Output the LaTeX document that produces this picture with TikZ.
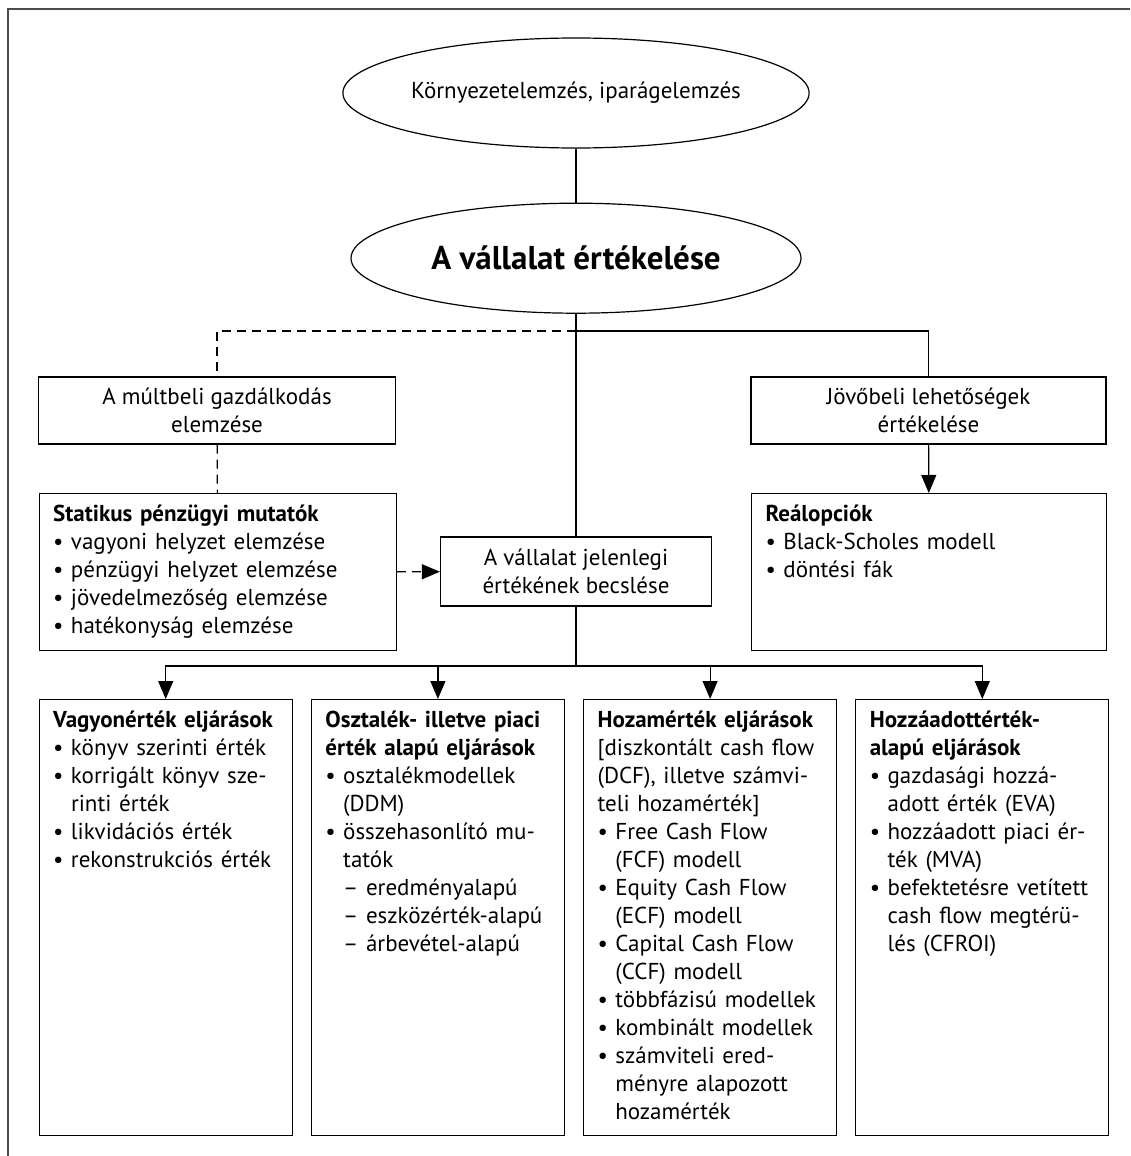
\documentclass[tikz,border=0pt]{standalone}
\usepackage{fontspec}
\setmainfont{PT Sans}
\usepackage{tikz}
\usetikzlibrary{shapes.geometric, arrows.meta, positioning, calc}
\newlength{\bulw}
\setlength{\bulw}{8.9pt}
\newcommand{\bul}{\makebox[\bulw][l]{\textbullet}}
\newcommand{\ind}{\hspace*{\bulw}}
\tikzset{oval/.style={ellipse,draw,minimum width=225pt,minimum height=55pt,inner sep=0pt},
         plainbox/.style={rectangle,draw,align=center,minimum height=33.5pt,inner sep=2pt},
         listbox/.style={rectangle,draw,align=left,inner xsep=7pt,inner ysep=5pt,text height=9pt,text depth=#1},
         pageframe/.style={line width=1pt,gray!60!black},
         dashline/.style={dash pattern=on 4.5pt off 3pt},
         arrow/.style={-{Triangle[length=9pt,width=7.5pt]}}}
\begin{document}
\begin{tikzpicture}[x=0.5pt,y=-0.5pt,font=\fontsize{11.5}{14}\selectfont,line width=0.6pt]
    \useasboundingbox (0,0) rectangle (1130,1156);
    \draw[pageframe] (8,1156) -- (8,9) -- (1130,9);
    \node (env) [oval] at (576,93) {Környezetelemzés, iparágelemzés};
    \node (main) [oval, below=27pt of env, font=\fontsize{16.5}{19}\selectfont\bfseries] {A vállalat értékelése};
    \node (mult) [plainbox, minimum width=178.5pt] at (217,410.5) {A múltbeli gazdálkodás\\elemzése};
    \node (jovo) [plainbox, minimum width=177.5pt] at (928.5,410.5) {Jövőbeli lehetőségek\\értékelése};
    \node (stat) [listbox=59.5pt, text width=164.5pt, anchor=north west] at (38.6,493)
        {\textbf{Statikus pénzügyi mutatók}\\
         \bul vagyoni helyzet elemzése\\
         \bul pénzügyi helyzet elemzése\\
         \bul jövedelmezőség elemzése\\
         \bul hatékonyság elemzése};
    \node (real) [listbox=59.5pt, text width=163.5pt, anchor=north west] at (751,493)
        {\textbf{Reálopciók}\\
         \bul Black-Scholes modell\\
         \bul döntési fák};
    \node (jelen) [plainbox, minimum width=135.5pt, minimum height=34.5pt] at (576,571.5) {A vállalat jelenlegi\\értékének becslése};
    \node (b1) [listbox=199pt, text width=112.5pt, anchor=north west] at (38.6,699)
        {\textbf{Vagyonérték eljárások}\\
         \bul könyv szerinti érték\\
         \bul korrigált könyv sze-\\
         \ind rinti érték\\
         \bul likvidációs érték\\
         \bul rekonstrukciós érték};
    \node (b2) [listbox=199pt, text width=112.5pt, right=9pt of b1]
        {\textbf{Osztalék- illetve piaci}\\
         \textbf{érték alapú eljárások}\\
         \bul osztalékmodellek\\
         \ind (DDM)\\
         \bul összehasonlító mu-\\
         \ind tatók\\
         \ind – eredményalapú\\
         \ind – eszközérték-alapú\\
         \ind – árbevétel-alapú};
    \node (b3) [listbox=199pt, text width=112.5pt, right=9pt of b2]
        {\textbf{Hozamérték eljárások}\\
         {[}diszkontált cash flow\\
         (DCF), illetve számvi-\\
         teli hozamérték{]}\\
         \bul Free Cash Flow\\
         \ind (FCF) modell\\
         \bul Equity Cash Flow\\
         \ind (ECF) modell\\
         \bul Capital Cash Flow\\
         \ind (CCF) modell\\
         \bul többfázisú modellek\\
         \bul kombinált modellek\\
         \bul számviteli ered-\\
         \ind ményre alapozott\\
         \ind hozamérték};
    \node (b4) [listbox=199pt, text width=112.5pt, right=9pt of b3]
        {\textbf{Hozzáadottérték-}\\
         \textbf{alapú eljárások}\\
         \bul gazdasági hozzá-\\
         \ind adott érték (EVA)\\
         \bul hozzáadott piaci ér-\\
         \ind ték (MVA)\\
         \bul befektetésre vetített\\
         \ind cash flow megtérü-\\
         \ind lés (CFROI)};
    \coordinate (fork) at (576,331);
    \coordinate (bus) at (576,666);
    \draw (env) -- (main);
    \draw (main) -- (jelen);
    \draw[dashline] (fork) -| (mult);
    \draw (fork) -| (jovo);
    \draw[dashline] (mult) -- (stat);
    \draw[dashline, arrow] (stat) -- (jelen);
    \draw[arrow] (jovo) -- (real);
    \draw (jelen) -- (bus);
    \foreach \b in {b1,b2,b3,b4} {\draw[arrow] (bus) -| (\b);}
\end{tikzpicture}
\end{document}
